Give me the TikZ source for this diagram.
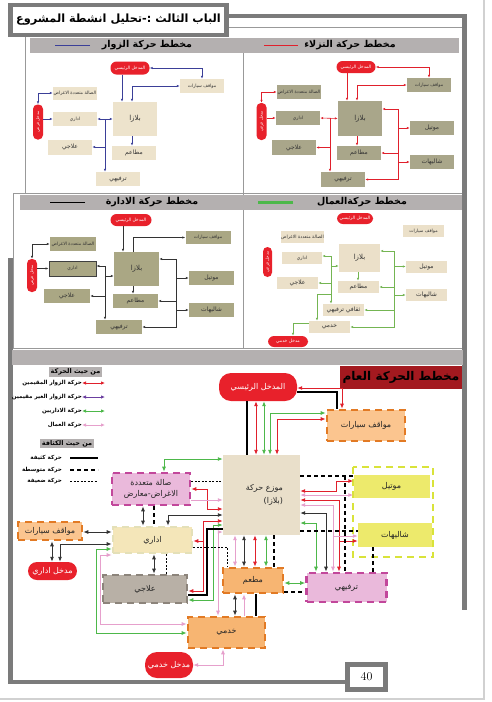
\documentclass[tikz,border=0pt]{standalone}
\usepackage{fontspec}
\usetikzlibrary{arrows.meta}
\newfontfamily\arabicfont[Script=Arabic]{DejaVu Sans}
\TeXXeTstate=1
\newcommand{\artxt}[1]{\beginR #1\endR}

\definecolor{frameg}{HTML}{7B7B7B}
\definecolor{bandg}{HTML}{B4B0B0}
\definecolor{pillred}{HTML}{E8212B}
\definecolor{cRed}{HTML}{E0202C}
\definecolor{cBlue}{HTML}{3B3F98}
\definecolor{cGreen}{HTML}{4DB84A}
\definecolor{cLeaf}{HTML}{74B552}
\definecolor{cPink}{HTML}{E6A0CC}
\definecolor{cPurple}{HTML}{6B3FA0}
\definecolor{cDark}{HTML}{333333}
\definecolor{boxV}{HTML}{EDE3CC}
\definecolor{boxG}{HTML}{A9A68A}
\definecolor{boxA}{HTML}{AAA784}
\definecolor{boxW}{HTML}{EBE0C9}
\definecolor{plazaF}{HTML}{E9DFCA}
\definecolor{orangeF}{HTML}{F7B572}
\definecolor{orangeL}{HTML}{FBC58F}
\definecolor{orangeD}{HTML}{E27A24}
\definecolor{yellowF}{HTML}{EDEA6C}
\definecolor{yellowD}{HTML}{D9E33A}
\definecolor{pinkF}{HTML}{EAB9DB}
\definecolor{magD}{HTML}{C2479B}
\definecolor{creamF}{HTML}{F4E6B9}
\definecolor{creamD}{HTML}{E4E0B8}
\definecolor{greyF}{HTML}{B8B0A6}
\definecolor{greyD}{HTML}{8C847B}
\definecolor{titleR}{HTML}{A3191F}

\tikzset{
  pageframe/.style={draw=frameg, line width=4.5pt},
  grayband/.style={fill=bandg},
  hdr/.style={inner sep=0, font=\arabicfont\bfseries\fontsize{9.5}{10}\selectfont},
  sbox/.style={fill=#1, inner sep=0, minimum width=44pt, minimum height=14pt,
    text=black!80, font=\arabicfont\fontsize{6}{7}\selectfont},
  stiny/.style={font=\arabicfont\fontsize{4.5}{5}\selectfont},
  splz/.style={font=\arabicfont\fontsize{7}{8}\selectfont},
  spill/.style={fill=pillred, rounded corners=6pt, inner sep=0, minimum width=39pt,
    minimum height=13pt, text=white, font=\arabicfont\fontsize{4.5}{5}\selectfont},
  sside/.style={spill, rounded corners=4.5pt, minimum width=10pt, minimum height=35pt,
    font=\arabicfont\fontsize{4}{5}\selectfont},
  bbox/.style={fill=#1, inner sep=0, text=black!85,
    font=\arabicfont\fontsize{8}{9}\selectfont},
  dbord/.style={draw=#1, line width=2.6pt, dash pattern=on 7pt off 5pt},
  bpill/.style={fill=pillred, rounded corners=12pt, inner sep=0, text=white,
    font=\arabicfont\fontsize{8}{9}\selectfont},
  heavy/.style={draw=black, line width=1.8pt},
  medium/.style={draw=black, line width=1.8pt, dash pattern=on 4pt off 3pt},
  weak/.style={draw=black, line width=0.5pt, dash pattern=on 2pt off 1.5pt},
  legtxt/.style={inner sep=0, font=\arabicfont\bfseries\fontsize{5.6}{6.5}\selectfont},
  leghd/.style={fill=bandg, inner sep=1.5pt, font=\arabicfont\bfseries\fontsize{6.5}{7.5}\selectfont},
}

\begin{document}
\begin{tikzpicture}[x=1pt, y=-1pt, >={Latex[length=3pt,width=2.4pt]}]
  \useasboundingbox (0,0) rectangle (492,702);
  \fill[white] (0,0) rectangle (492,702);
  \draw[black!18, line width=1.2pt] (484,0) -- (484,699) -- (0,699);

  % top panels
  \draw[black!40, line width=0.6pt] (25,27) rectangle (462,193);
  \draw[black!40, line width=0.6pt] (13,193) rectangle (462,348);
  \draw[black!40, line width=0.6pt] (243,53) -- (243,348);
  \fill[grayband] (30,38) rectangle (459,53);
  \fill[grayband] (20,195) rectangle (462,210);
  \node[hdr] (hGuest) at (350,45.5) {\artxt{مخطط حركة النزلاء}};
  \draw[cRed, line width=1.6pt] (hGuest.west -| 298,0) -- ++(-34,0);
  \node[hdr] (hVisit) at (147,45.5) {\artxt{مخطط  حركة الزوار}};
  \draw[cBlue, line width=1.2pt] (hVisit.west -| 90,0) -- ++(-35,0);
  \node[hdr] (hAdmin) at (152,202.5) {\artxt{مخطط حركة الادارة}};
  \draw[black, line width=1.8pt] (hAdmin.west -| 85,0) -- ++(-35,0);
  \node[hdr] (hWork) at (362,202.5) {\artxt{مخطط حركةالعمال}};
  \draw[cGreen, line width=2.6pt] (hWork.west -| 293,0) -- ++(-35,0);

  % title and page frame
  \node[draw=frameg, line width=4.5pt, fill=white, minimum width=216pt, minimum height=30pt,
    inner sep=0, font=\arabicfont\bfseries\fontsize{11.3}{12}\selectfont] (title) at (118.5,20)
    {\artxt{الباب الثالث :-تحليل انشطة المشروع}};
  \draw[pageframe] (title.east |- 0,16) -- (464.5,16) -- (464.5,610);
  \node[draw=frameg, line width=5pt, fill=white, minimum width=38pt, minimum height=25pt,
    inner sep=0, font=\fontsize{12}{13}\selectfont] (pnum) at (366.5,677) {40};
  \draw[pageframe] (10.5,258) -- (10.5,682) -- (pnum.west |- 0,682);

  % visitors
  \node[spill] (vEnt) at (130,68) {\artxt{المدخل الرئيسي}};
  \node[sbox=boxV, stiny] (vPark) at (202,86) {\artxt{مواقف سيارات}};
  \node[sbox=boxV, stiny, minimum height=13pt] (vHall) at (75,93) {\artxt{الصالة متعددة الاغراض}};
  \node[sbox=boxV, splz, minimum height=34pt] (vPlaza) at (135,119) {\artxt{بلازا}};
  \node[sbox=boxV, stiny] (vAdm) at (75,119) {\artxt{اداري}};
  \node[sside] (vSide) at (38,122) {\rotatebox{90}{\artxt{مدخل فرعي}}};
  \node[sbox=boxV, minimum height=15pt] (vClin) at (70,147) {\artxt{علاجي}};
  \node[sbox=boxV] (vRest) at (134,153) {\artxt{مطاعم}};
  \node[sbox=boxV] (vRec) at (118,179) {\artxt{ترفيهي}};
  \coordinate (vBus) at (105,119);
  \begin{scope}[cBlue, line width=0.6pt]
    \draw[<->] (vEnt.east) -| (vPark.north);
    \draw[->] (vEnt.south -| 122,0) -- (vPlaza.north -| 122,0);
    \draw[<->] (vPark.west) -| (vPlaza.north -| 132,0);
    \draw[<->] (vSide.north) |- (vHall.west);
    \draw[->] (vSide.east |- vAdm.west) -- (vAdm.west);
    \draw[<->] (vAdm.east) -- (vPlaza.west);
    \draw[->] (vBus) |- (vClin.east);
    \draw[->] (vBus) -- (vBus |- vRec.north);
    \draw[->] (vPlaza.south -| 132,0) -- (vRest.north -| 132,0);
  \end{scope}

  % guests
  \node[spill, minimum height=12pt] (gEnt) at (356,67) {\artxt{المدخل الرئيسي}};
  \node[sbox=boxG, stiny] (gPark) at (429,85) {\artxt{مواقف سيارات}};
  \node[sbox=boxG, stiny] (gHall) at (299,92) {\artxt{الصالة متعددة الاغراض}};
  \node[sbox=boxG, splz, minimum height=35pt] (gPlaza) at (360,118.5) {\artxt{بلازا}};
  \node[sbox=boxG, stiny] (gAdm) at (298,118) {\artxt{اداري}};
  \node[sside, minimum height=37pt] (gSide) at (261.5,121.5) {\rotatebox{90}{\artxt{مدخل فرعي}}};
  \node[sbox=boxG] (gMotel) at (432,128) {\artxt{موتيل}};
  \node[sbox=boxG, minimum height=15pt] (gClin) at (294,147.5) {\artxt{علاجي}};
  \node[sbox=boxG] (gRest) at (359,153) {\artxt{مطاعم}};
  \node[sbox=boxG] (gChal) at (432,162) {\artxt{شاليهات}};
  \node[sbox=boxG, minimum height=15pt] (gRec) at (343,179.5) {\artxt{ترفيهي}};
  \coordinate (gBusL) at (330,118);
  \coordinate (gBusR) at (398,109);
  \begin{scope}[cRed, line width=0.6pt]
    \draw[<->] (gEnt.east) -| (gPark.north);
    \draw[->] (gEnt.south -| 347,0) -- (gPlaza.north -| 347,0);
    \draw[<->] (gPark.west) -| (gPlaza.north -| 357,0);
    \draw[<->] (gSide.north) |- (gHall.west);
    \draw[->] (gSide.east |- gAdm.west) -- (gAdm.west);
    \draw[<->] (gAdm.east) -- (gPlaza.west);
    \draw[->] (gBusL) |- (gClin.east);
    \draw[->] (gBusL) -- (gBusL |- gRec.north);
    \draw[->] (gBusR) -- (gBusR -| gPlaza.east);
    \draw[->] (gBusR) |- (gRec.east);
    \draw[->] (gBusR |- gMotel.west) -- (gMotel.west);
    \draw[->] (gBusR |- gRest.east) -- (gRest.east);
    \draw[->] (gBusR |- gChal.west) -- (gChal.west);
    \draw[->] (gPlaza.south -| 357,0) -- (gRest.north -| 357,0);
  \end{scope}

  % administration
  \node[spill, minimum width=41pt, minimum height=12pt] (aEnt) at (131,220) {\artxt{المدخل الرئيسي}};
  \node[sbox=boxA, stiny, minimum width=45pt, minimum height=13pt] (aPark) at (208,237.5) {\artxt{مواقف سيارات}};
  \node[sbox=boxA, stiny, minimum width=46pt] (aHall) at (73,244) {\artxt{الصالة متعددة الاغراض}};
  \node[sside, minimum height=33pt] (aSide) at (32,275.5) {\rotatebox{90}{\artxt{مدخل فرعي}}};
  \node[sbox=boxA, stiny, draw=black!75, line width=0.8pt, minimum width=47pt, minimum height=15pt] (aAdm) at (72.5,268.5) {\artxt{اداري}};
  \node[sbox=boxA, splz, minimum width=45pt, minimum height=34pt] (aPlaza) at (136.5,269) {\artxt{بلازا}};
  \node[sbox=boxA, minimum width=45pt] (aMotel) at (211.5,278) {\artxt{موتيل}};
  \node[sbox=boxA, minimum width=46pt] (aClin) at (67,296) {\artxt{علاجي}};
  \node[sbox=boxA, minimum width=45pt] (aRest) at (135.5,301) {\artxt{مطاعم}};
  \node[sbox=boxA, minimum width=45pt] (aChal) at (211.5,310) {\artxt{شاليهات}};
  \node[sbox=boxA, minimum width=46pt] (aRec) at (119,327) {\artxt{ترفيهي}};
  \coordinate (aBusL) at (105,266);
  \coordinate (aBusR) at (176,259);
  \begin{scope}[cDark, line width=0.6pt]
    \draw[->] (aEnt.south -| 123,0) -- (aPlaza.north -| 123,0);
    \draw[<-] (aPark.west) -| (aPlaza.north -| 133,0);
    \draw[<->] (aSide.north) |- (aHall.west);
    \draw[->] (aSide.east |- aAdm.west) -- (aAdm.west);
    \draw[->] (aBusL) -- (aBusL -| aAdm.east);
    \draw[->] (aBusL |- 0,276) -- (aPlaza.west |- 0,276);
    \draw[->] (aBusL) |- (aClin.east);
    \draw[->] (aBusL) -- (aBusL |- aRec.north);
    \draw[->] (aBusR) -- (aBusR -| aPlaza.east);
    \draw[->] (aBusR) |- (aRec.east);
    \draw[->] (aBusR |- aMotel.west) -- (aMotel.west);
    \draw[->] (aBusR |- aRest.east) -- (aRest.east);
    \draw[->] (aBusR |- aChal.west) -- (aChal.west);
    \draw[->] (aPlaza.south -| 133,0) -- (aRest.north -| 133,0);
  \end{scope}

  % workers
  \node[spill, minimum width=36pt, minimum height=11pt] (wEnt) at (355,218.5) {\artxt{المدخل الرئيسي}};
  \node[sbox=boxW, stiny, minimum width=41pt, minimum height=12pt] (wPark) at (423.5,231) {\artxt{مواقف سيارات}};
  \node[sbox=boxW, stiny, minimum width=41pt, minimum height=12pt] (wHall) at (302.5,237) {\artxt{الصالة متعددة الاغراض}};
  \node[sside, minimum width=9pt, minimum height=30pt] (wSide) at (267.5,262) {\rotatebox{90}{\artxt{مدخل فرعي}}};
  \node[sbox=boxW, stiny, minimum width=40pt, minimum height=12pt] (wAdm) at (302,258) {\artxt{اداري}};
  \node[sbox=boxW, splz, minimum width=41pt, minimum height=28pt] (wPlaza) at (359.5,258) {\artxt{بلازا}};
  \node[sbox=boxW, minimum width=41pt, minimum height=12pt] (wMotel) at (426.5,266.5) {\artxt{موتيل}};
  \node[sbox=boxW, minimum width=41pt, minimum height=12pt] (wClin) at (297.5,283) {\artxt{علاجي}};
  \node[sbox=boxW, minimum width=41pt, minimum height=12pt] (wRest) at (358.5,287) {\artxt{مطاعم}};
  \node[sbox=boxW, minimum width=41pt, minimum height=12pt] (wChal) at (426.5,295) {\artxt{شاليهات}};
  \node[sbox=boxW, minimum width=41pt, minimum height=12pt] (wCult) at (343.5,310) {\artxt{ثقافي ترفيهي}};
  \node[sbox=boxW, minimum width=41pt, minimum height=12pt] (wServ) at (329.5,327) {\artxt{خدمي}};
  \node[spill, minimum width=40pt, minimum height=11pt] (wServEnt) at (288,341.5) {\artxt{مدخل خدمي}};
  \coordinate (wBusL) at (331,256);
  \coordinate (wBusR) at (394,251);
  \begin{scope}[cLeaf, line width=0.6pt]
    \draw[->] (wPlaza.south -| 358,0) -- (wRest.north -| 358,0);
    \draw[->] (wBusR) -- (wBusR -| wPlaza.east);
    \draw[->] (wBusR) |- (wServ.east);
    \draw[->] (wBusR |- wMotel.west) -- (wMotel.west);
    \draw[->] (wBusR |- wRest.east) -- (wRest.east);
    \draw[->] (wBusR |- wChal.west) -- (wChal.west);
    \draw[->] (wBusR |- wCult.east) -- (wCult.east);
    \draw[->] (wBusL) -- (wBusL -| wAdm.east);
    \draw[->] (wBusL |- 0,266) -- (wPlaza.west |- 0,266);
    \draw[->] (wBusL |- wClin.east) -- (wClin.east);
    \draw[->] (wBusL) -- (wBusL |- wCult.north);
    \draw[->] (wBusL |- 0,294) -| (wServ.north -| 317,0);
    \draw[->] (wServ.west |- 0,323) -| (wServEnt.north -| 293,0);
  \end{scope}

  % general movement
  \fill[grayband] (12,350) rectangle (463,365);
  \node[fill=titleR, minimum width=122pt, minimum height=23pt, inner sep=0,
    font=\arabicfont\bfseries\fontsize{12}{13}\selectfont] (mTitle) at (401,377.5)
    {\artxt{مخطط الحركة العام}};

  \node[leghd] (lgMove) at (75.5,372) {\artxt{من حيث الحركة}};
  \node[legtxt, anchor=east] (lgRes) at (82,383) {\artxt{حركة الزوار المقيمين}};
  \node[legtxt, anchor=east] (lgVis) at (82,397) {\artxt{حركة الزوار الغير مقيمين}};
  \node[legtxt, anchor=east] (lgAdm) at (82,411) {\artxt{حركة الاداريين}};
  \node[legtxt, anchor=east] (lgWrk) at (82,425) {\artxt{حركة العمال}};
  \node[leghd] (lgDens) at (67,443.5) {\artxt{من حيث الكثافة}};
  \node[legtxt, anchor=east] (lgHeavy) at (62,458) {\artxt{حركة كثيفة}};
  \node[legtxt, anchor=east] (lgMed) at (62,470) {\artxt{حركة متوسطة}};
  \node[legtxt, anchor=east] (lgWeak) at (62,481) {\artxt{حركة ضعيفة}};
  \begin{scope}[line width=0.9pt, >={Latex[length=4pt,width=3.5pt]}]
    \draw[cRed, <->] (lgRes.east) -- ++(23,0);
    \draw[cPurple, <->] (lgVis.east) -- ++(23,0);
    \draw[cGreen, <->] (lgAdm.east) -- ++(23,0);
    \draw[cPink, <->] (lgWrk.east) -- ++(23,0);
  \end{scope}
  \draw[heavy] ([xshift=8pt]lgHeavy.east) -- ++(28,0);
  \draw[medium] ([xshift=8pt]lgMed.east) -- ++(28,0);
  \draw[weak] ([xshift=8pt]lgWeak.east) -- ++(28,0);

  \node[bpill, minimum width=78pt, minimum height=28pt] (mEnt) at (258,387) {\artxt{المدخل الرئيسي}};
  \node[bbox=orangeL, dbord=orangeD, minimum width=78pt, minimum height=31pt] (mPark) at (366,425.5) {\artxt{مواقف سيارات}};
  \node[bbox=plazaF, minimum width=77pt, minimum height=80pt, align=right, text width=43pt] (mPlaza) at (261.5,495)
    {\artxt{موزع حركة}\\[4pt]\artxt{(بلازا)}};
  \draw[yellowD, line width=2.6pt, dash pattern=on 7pt off 5pt] (353,467) rectangle (433,557);
  \node[bbox=yellowF, minimum width=76pt, minimum height=23pt] (mMotel) at (391.5,486.5) {\artxt{موتيل}};
  \node[bbox=yellowF, minimum width=74pt, minimum height=24pt] (mChal) at (395,535) {\artxt{شاليهات}};
  \node[bbox=pinkF, dbord=magD, minimum width=80pt, minimum height=29pt] (mRec) at (346.5,587.5) {\artxt{ترفيهي}};
  \node[bbox=orangeF, dbord=orangeD, minimum width=60pt, minimum height=25pt] (mRest) at (253,580.5) {\artxt{مطعم}};
  \node[bbox=orangeF, dbord=orangeD, minimum width=77pt, minimum height=31pt] (mServ) at (226.5,632.5) {\artxt{خدمي}};
  \node[bpill, minimum width=48pt, minimum height=26pt] (mServEnt) at (169,665) {\artxt{مدخل خدمي}};
  \node[bbox=pinkF, dbord=magD, minimum width=78pt, minimum height=32pt, align=center] (mHall) at (151,489)
    {\artxt{صالة متعددة}\\[2pt]\artxt{الاغراض-معارض}};
  \node[bbox=creamF, dbord=creamD, minimum width=79pt, minimum height=26pt] (mAdm) at (152.5,540) {\artxt{اداري}};
  \node[bbox=orangeL, dbord=orangeD, minimum width=64pt, minimum height=18pt] (mParkL) at (50,531) {\artxt{مواقف سيارات}};
  \node[bpill, rounded corners=9pt, minimum width=49pt, minimum height=18pt] (mAdmEnt) at (52.5,571) {\artxt{مدخل اداري}};
  \node[bbox=greyF, dbord=greyD, minimum width=84pt, minimum height=28pt] (mClin) at (145,589) {\artxt{علاجي}};

  \begin{scope}[line width=0.9pt, >={Latex[length=5pt,width=4pt]}]
    % entrance and parking
    \draw[heavy] ([yshift=-5pt]mEnt.east) -| ([xshift=-29pt]mPark.north);
    \draw[cRed, <->] ([xshift=-24pt]mPark.north) |- ([yshift=-1pt]mEnt.east);
    \draw[heavy] (mEnt.south -| 247,0) -- (mPlaza.north -| 247,0);
    \draw[cRed, <->] (mEnt.south -| 256,0) -- (mPlaza.north -| 256,0);
    \draw[cGreen, <->] (mEnt.south -| 264,0) -- (mPlaza.north -| 264,0);
    \draw[cGreen, <->] (mPlaza.north -| 270,0) |- (mPark.west |- 0,413);
    \draw[cRed, <->] (mPlaza.north -| 277,0) |- (mPark.west |- 0,419);
    % hall, administration, clinic
    \draw[cGreen, <->] (mHall.north -| 164,0) |- (mPlaza.west |- 0,459);
    \draw[weak] (mHall.east |- 0,481) -- (mPlaza.west |- 0,481);
    \draw[cRed, <->] (mHall.east |- 0,489) -- (207,489) |- (mPlaza.west |- 0,509);
    \draw[cPink, ->] (mHall.east |- 0,500) -- (mPlaza.west |- 0,500);
    \draw[cDark, <->] (mPlaza.west |- 0,515) -| (mAdm.north -| 168,0);
    \draw[cRed, <->] (mPlaza.west |- 0,521) -- (203,521) |- (mClin.east |- 0,591);
    \draw[cRed, ->] (203,541) -- (mAdm.east |- 0,541);
    \draw[cGreen, <->] (mPlaza.west |- 0,525) -- (213,525) |- (mClin.east |- 0,600);
    \draw[heavy] (mPlaza.west |- 0,529) -- (207,529) |- (mClin.east |- 0,595);
    \draw[cPink, <->] (mPlaza.west |- 0,532) -| (mServ.north -| 218,0);
    \draw[weak] (mAdm.east |- 0,547) -| (mRest.north -| 227,0);
    \draw[cDark, <->] (mHall.south -| 143,0) -- (mAdm.north -| 143,0);
    \draw[medium] (mHall.south -| 154,0) -- (mAdm.north -| 154,0);
    \draw[cDark, <->] (mAdm.south -| 154,0) -- (mClin.north -| 154,0);
    \draw[weak] (mAdm.south -| 166,0) -- (mClin.north -| 166,0);
    % parking and administrative entrance
    \draw[cDark, <->] (mParkL.east |- 0,532) -- (mAdm.west |- 0,532);
    \draw[cDark, <->] (mAdmEnt.north -| 60,0) |- (mAdm.west |- 0,544);
    \draw[cDark, <->] (mParkL.south -| 52,0) -- (mAdmEnt.north -| 52,0);
    \draw[cGreen, <->] (mAdm.west |- 0,549) -| (96,633) -- (mServ.west |- 0,633);
    \draw[cPink, <->] (mAdm.west |- 0,555) -| (100,624) -- (mServ.west |- 0,624);
    % plaza, restaurant, service
    \draw[cPink, <->] (mPlaza.south -| 235,0) -- (mRest.north -| 235,0);
    \draw[cDark, <->] (mPlaza.south -| 244,0) -- (mRest.north -| 244,0);
    \draw[cRed, <->] (mPlaza.south -| 255,0) -- (mRest.north -| 255,0);
    \draw[cGreen, <->] (mPlaza.south -| 266,0) -- (mRest.north -| 266,0);
    \draw[medium] (mPlaza.south -| 274,0) -- (mRest.north -| 274,0);
    \draw[cDark, <->] (mRest.south -| 235,0) -- (mServ.north -| 235,0);
    \draw[cPink, ->] (mServ.north -| 244,0) -- (mRest.south -| 244,0);
    \draw[heavy] (mRest.south -| 256,0) -- (mServ.north -| 256,0);
    \draw[cPink, <->] (mServ.south -| 223,0) |- (mServEnt.east);
    \draw[cGreen, <->] (mRest.east |- 0,583) -- (mRec.west |- 0,583);
    \draw[medium] (mRest.east |- 0,592) -- (mRec.west |- 0,592);
    % plaza, motel, chalets, recreation
    \draw[medium] (mPlaza.east |- 0,476) -- (mMotel.west |- 0,476);
    \draw[cRed, <->] (mPlaza.east |- 0,491) -- (336,491) |- (mMotel.west |- 0,481);
    \draw[cPink, <->] (mPlaza.east |- 0,495) -- (mMotel.west |- 0,495);
    \draw[cRed, <->] (mPlaza.east |- 0,500) -| (mRec.north -| 339,0);
    \draw[cRed, ->] (339,541) -- (mChal.west |- 0,541);
    \draw[cPink, <->] (mPlaza.east |- 0,505) -| (mRec.north -| 333,0);
    \draw[cPink, ->] (333,536) -- (mChal.west |- 0,536);
    \draw[cDark, <->] (mPlaza.east |- 0,513) -| (mRec.north -| 326,0);
    \draw[cGreen, <->] (mPlaza.east |- 0,523) -| (mRec.north -| 316,0);
    \draw[medium] (mPlaza.east |- 0,531) -- (mChal.west |- 0,531);
    \draw[medium] (345,476) -- (mRec.north -| 345,0);
    \draw[medium] (mChal.south -| 373,0) -- (mRec.north -| 373,0);
  \end{scope}
\end{tikzpicture}
\end{document}
